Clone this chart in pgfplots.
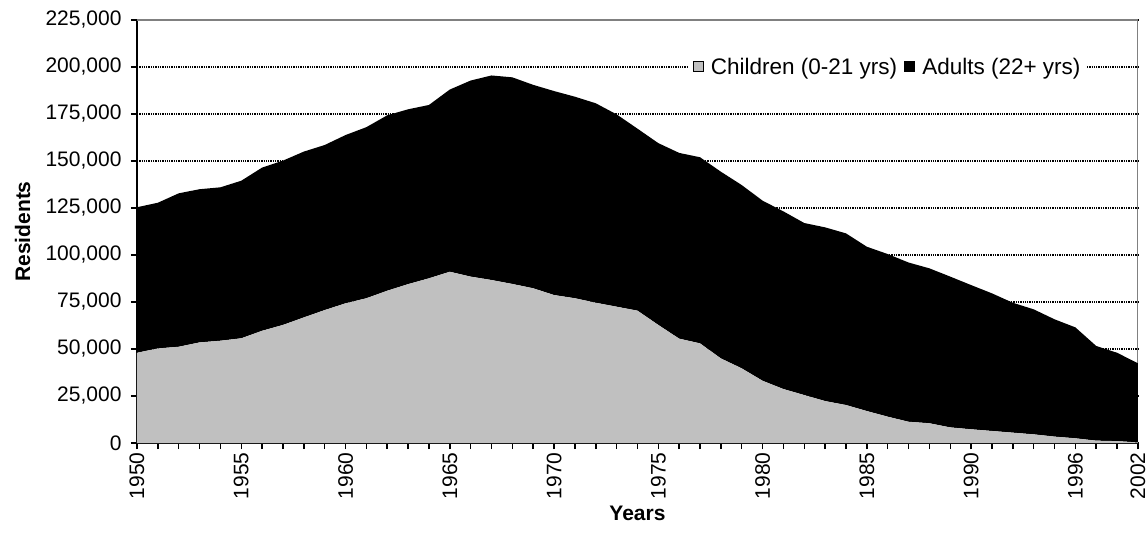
\documentclass[border=0pt]{standalone}
\usepackage{fontspec}
\setmainfont{Liberation Sans}
\usepackage{pgfplots}
\pgfplotsset{compat=1.18}
\definecolor{kidgray}{RGB}{192,192,192}
\definecolor{framegray}{RGB}{128,128,128}

\begin{document}
\begin{tikzpicture}[font=\fontsize{21}{25}\selectfont]
\useasboundingbox (-137pt,-93pt) rectangle (1011pt,443pt);
\begin{axis}[
  at={(0,0)}, anchor=south west,
  scale only axis, width=1001pt, height=423pt,
  xmin=0, xmax=48, ymin=0, ymax=225000,
  stack plots=y,
  scaled y ticks=false,
  axis x line*=bottom, axis y line*=left,
  axis line style={line width=1.5pt, -},
  tick align=outside,
  major tick length=6pt, minor tick length=6pt,
  every tick/.style={black, line width=1.5pt},
  minor tick style={black, line width=1.5pt},
  ytick={0,25000,50000,75000,100000,125000,150000,175000,200000,225000},
  yticklabels={0,{25,000},{50,000},{75,000},{100,000},{125,000},{150,000},{175,000},{200,000},{225,000}},
  yticklabel style={xshift=-6pt},
  xtick={0,5,10,15,20,25,30,35,40,45,48},
  xticklabels={1950,1955,1960,1965,1970,1975,1980,1985,1990,1996,2002},
  minor xtick={0,...,48},
  xticklabel style={rotate=90, anchor=east},
  ymajorgrids,
  grid style={black, line width=1.3pt, dash pattern=on 1.3pt off 1pt},
  xlabel={\textbf{Years}},
  ylabel={\textbf{Residents}},
  ylabel style={at={(axis description cs:-0.103,0.5)}, anchor=south},
  legend style={at={(0.750,0.889)}, anchor=center, draw=none, fill=white,
    legend columns=2, font=\fontsize{22.5}{26}\selectfont,
    inner xsep=5pt,
    /tikz/every odd column/.append style={column sep=5pt},
    /tikz/every even column/.append style={column sep=5pt}},
  legend image code/.code={\draw[#1, draw=black, line width=1pt] (0pt,-5pt) rectangle (10pt,5pt);},
]
% children 0-21
\addplot[fill=kidgray, draw=none] coordinates {
  (0,48000) (1,50300) (2,51200) (3,53500) (4,54400) (5,55700) (6,59700)
  (7,62800) (8,66800) (9,70700) (10,74300) (11,77000) (12,81000) (13,84500)
  (14,87600) (15,91100) (16,88500) (17,86700) (18,84600) (19,82300) (20,78700)
  (21,77000) (22,74600) (23,72500) (24,70400) (25,62800) (26,55500) (27,53000)
  (28,45000) (29,39700) (30,33100) (31,28700) (32,25500) (33,22300) (34,20200)
  (35,17000) (36,14000) (37,11300) (38,10500) (39,8300) (40,7300) (41,6400)
  (42,5500) (43,4600) (44,3400) (45,2500) (46,1250) (47,1000) (48,300)
} \closedcycle;
\addlegendentry{Children (0-21 yrs)}
% adults 22+
\addplot[fill=black, draw=none] coordinates {
  (0,77400) (1,77500) (2,81600) (3,81500) (4,81600) (5,83800) (6,86800)
  (7,87400) (8,88200) (9,87800) (10,89500) (11,91000) (12,93300) (13,93000)
  (14,92200) (15,96900) (16,104300) (17,108800) (18,109900) (19,108200) (20,108500)
  (21,107200) (22,106100) (23,102300) (24,96800) (25,96700) (26,98800) (27,99000)
  (28,99300) (29,97500) (30,95800) (31,94500) (32,91500) (33,92400) (34,91300)
  (35,87400) (36,86500) (37,84700) (38,82400) (39,80200) (40,76700) (41,73200)
  (42,69100) (43,66500) (44,62400) (45,59000) (46,50350) (47,47000) (48,42100)
} \closedcycle;
\addlegendentry{Adults (22+ yrs)}
\draw[framegray, line width=1.5pt] (rel axis cs:0,1) -- (rel axis cs:1,1) -- (rel axis cs:1,0);
\end{axis}
\end{tikzpicture}
\end{document}
